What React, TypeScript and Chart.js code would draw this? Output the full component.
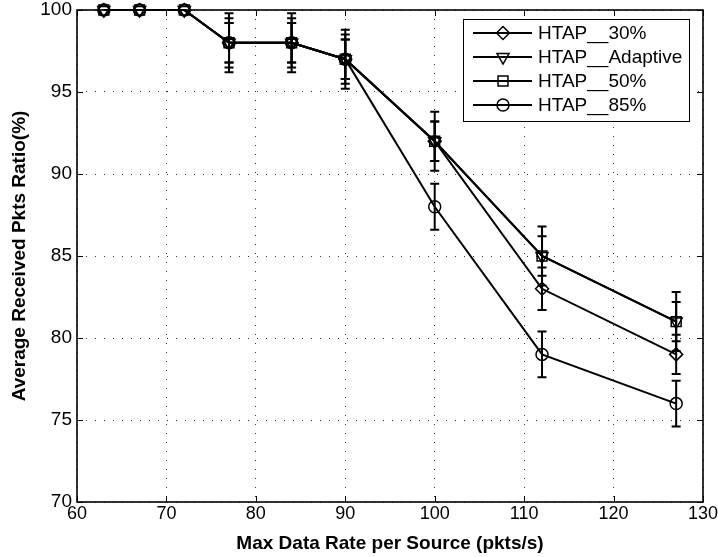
import React, { useEffect, useRef } from "react";
import { Chart, registerables } from "chart.js";

Chart.register(...registerables);

const xValues = [63, 67, 72, 77, 84, 90, 100, 112, 127];
const seriesNames = ["HTAP__30%", "HTAP__Adaptive", "HTAP__50%", "HTAP__85%"];
const ht30 = [100, 100, 100, 98, 98, 97, 92, 83, 79];
const htAdaptive = [100, 100, 100, 98, 98, 97, 92, 85, 81];
const ht50 = [100, 100, 100, 98, 98, 97, 92, 85, 81];
const ht85 = [100, 100, 100, 98, 98, 97, 88, 79, 76];
const err30 = [0, 0, 0, 1.2, 1.2, 1.2, 1.2, 1.3, 1.2];
const errAdaptive = [0, 0, 0, 1.8, 1.8, 1.8, 1.8, 1.8, 1.8];
const err50 = [0, 0, 0, 1.2, 1.2, 1.2, 1.2, 1.2, 1.2];
const err85 = [0, 0, 0, 1.5, 1.5, 1.5, 1.4, 1.4, 1.4];
const xTicks = [60, 70, 80, 90, 100, 110, 120, 130];
const yTicks = [70, 75, 80, 85, 90, 95, 100];

const FONT = "'Liberation Sans', Arial, Helvetica, sans-serif";

const markers = [
  { style: "rectRot", radius: 6.5, rotation: 0 },
  { style: "triangle", radius: 7, rotation: 180 },
  { style: "rect", radius: 7, rotation: 0 },
  { style: "circle", radius: 6, rotation: 0 },
];

const allValues = [ht30, htAdaptive, ht50, ht85];
const allErrors = [err30, errAdaptive, err50, err85];

function drawMarker(ctx: CanvasRenderingContext2D, style: string, r: number, x: number, y: number) {
  ctx.beginPath();
  if (style === "rectRot") {
    ctx.moveTo(x, y - r);
    ctx.lineTo(x + r, y);
    ctx.lineTo(x, y + r);
    ctx.lineTo(x - r, y);
    ctx.closePath();
  } else if (style === "triangle") {
    const h = r * Math.sin(Math.PI / 3);
    ctx.moveTo(x, y + r);
    ctx.lineTo(x + h, y - r / 2);
    ctx.lineTo(x - h, y - r / 2);
    ctx.closePath();
  } else if (style === "rect") {
    const s = r * Math.SQRT1_2;
    ctx.rect(x - s, y - s, 2 * s, 2 * s);
  } else {
    ctx.arc(x, y, r, 0, Math.PI * 2);
  }
  ctx.stroke();
}

const errorBarPlugin = {
  id: "errorBars",
  afterDatasetsDraw(chart: any) {
    const ctx = chart.ctx;
    const xs = chart.scales.x;
    const ys = chart.scales.y;
    ctx.save();
    ctx.strokeStyle = "#000";
    ctx.lineWidth = 2;
    chart.data.datasets.forEach((ds: any) => {
      const errs = ds.errors as number[];
      ds.data.forEach((p: any, i: number) => {
        const e = errs[i];
        if (!e) return;
        const px = xs.getPixelForValue(p.x);
        const y1 = ys.getPixelForValue(p.y + e);
        const y2 = ys.getPixelForValue(p.y - e);
        ctx.beginPath();
        ctx.moveTo(px, y1);
        ctx.lineTo(px, y2);
        ctx.moveTo(px - 4.5, y1);
        ctx.lineTo(px + 4.5, y1);
        ctx.moveTo(px - 4.5, y2);
        ctx.lineTo(px + 4.5, y2);
        ctx.stroke();
      });
    });
    ctx.restore();
  },
};

const framePlugin = {
  id: "frame",
  beforeDatasetsDraw(chart: any) {
    const { ctx, chartArea } = chart;
    const { left, right, top, bottom } = chartArea;
    const xs = chart.scales.x;
    const ys = chart.scales.y;
    ctx.save();
    ctx.strokeStyle = "#000";
    ctx.lineWidth = 1;
    const tl = 6;
    ctx.beginPath();
    xTicks.forEach((t) => {
      const px = Math.round(xs.getPixelForValue(t)) + 0.5;
      ctx.moveTo(px, bottom);
      ctx.lineTo(px, bottom - tl);
      ctx.moveTo(px, top);
      ctx.lineTo(px, top + tl);
    });
    yTicks.forEach((t) => {
      const py = Math.round(ys.getPixelForValue(t)) + 0.5;
      ctx.moveTo(left, py);
      ctx.lineTo(left + tl, py);
      ctx.moveTo(right, py);
      ctx.lineTo(right - tl, py);
    });
    ctx.stroke();
    ctx.lineWidth = 1.6;
    ctx.strokeRect(left, top, right - left, bottom - top);
    ctx.restore();
  },
};

const legendPlugin = {
  id: "customLegend",
  afterDraw(chart: any) {
    const ctx = chart.ctx;
    const boxL = 463;
    const boxT = 19;
    const boxW = 226;
    const rowH = 24;
    const boxH = rowH * 4 + 6;
    ctx.save();
    ctx.fillStyle = "#fff";
    ctx.fillRect(boxL, boxT, boxW, boxH);
    ctx.strokeStyle = "#000";
    ctx.lineWidth = 1;
    ctx.strokeRect(boxL + 0.5, boxT + 0.5, boxW, boxH);
    seriesNames.forEach((name, i) => {
      const cy = boxT + 14 + i * rowH;
      ctx.strokeStyle = "#000";
      ctx.lineWidth = 2;
      ctx.beginPath();
      ctx.moveTo(boxL + 10, cy);
      ctx.lineTo(boxL + 69, cy);
      ctx.stroke();
      const m = markers[i];
      ctx.lineWidth = 1.5;
      drawMarker(ctx, m.style, m.radius, boxL + 40, cy);
      ctx.fillStyle = "#000";
      ctx.font = `19px ${FONT}`;
      ctx.textBaseline = "middle";
      ctx.textAlign = "left";
      ctx.fillText(name, boxL + 75, cy + 1);
    });
    ctx.restore();
  },
};

const noPad = (s: any) => {
  s.paddingLeft = 0;
  s.paddingRight = 0;
  s.paddingTop = 0;
  s.paddingBottom = 0;
};

export default function App() {
  const ref = useRef<HTMLCanvasElement | null>(null);
  useEffect(() => {
    if (!ref.current) return;
    const datasets = seriesNames.map((name, i) => ({
      label: name,
      data: xValues.map((x, j) => ({ x, y: allValues[i][j] })),
      errors: allErrors[i],
      showLine: true,
      borderColor: "#000",
      borderWidth: 2,
      pointStyle: markers[i].style,
      pointRadius: markers[i].radius,
      pointRotation: markers[i].rotation,
      pointBorderWidth: 1.5,
      pointBackgroundColor: "rgba(0,0,0,0)",
      pointBorderColor: "#000",
      clip: false,
      tension: 0,
    }));
    const chart = new Chart(ref.current, {
      type: "scatter",
      data: { datasets: datasets as any },
      options: {
        animation: false,
        responsive: false,
        events: [],
        layout: { padding: { left: 0, right: 15, top: 10, bottom: 0 } },
        plugins: { legend: { display: false }, tooltip: { enabled: false } },
        scales: {
          x: {
            type: "linear",
            min: 60,
            max: 130,
            afterFit: (s: any) => {
              s.height = 55;
              noPad(s);
            },
            afterBuildTicks: (s: any) => {
              s.ticks = xTicks.map((v) => ({ value: v }));
            },
            border: { display: false, dash: [1, 8] },
            grid: {
              color: "#333",
              lineWidth: 1,
              drawTicks: false,
            },
            ticks: {
              color: "#000",
              padding: 1,
              font: { family: FONT, size: 18 },
              maxRotation: 0,
              autoSkip: false,
            },
            title: {
              display: true,
              text: "Max Data Rate per Source (pkts/s)",
              color: "#000",
              font: { family: FONT, size: 19, weight: "bold" },
              padding: { top: 0, bottom: 2 },
            },
          },
          y: {
            type: "linear",
            min: 70,
            max: 100,
            afterFit: (s: any) => {
              s.width = 77;
              noPad(s);
            },
            afterBuildTicks: (s: any) => {
              s.ticks = yTicks.map((v) => ({ value: v }));
            },
            border: { display: false, dash: [1, 8] },
            grid: {
              color: "#333",
              lineWidth: 1,
              drawTicks: false,
            },
            ticks: {
              color: "#000",
              padding: 5,
              font: { family: FONT, size: 19 },
              autoSkip: false,
            },
            title: {
              display: true,
              text: "Average Received Pkts Ratio(%)",
              color: "#000",
              font: { family: FONT, size: 19, weight: "bold" },
              padding: { top: 8, bottom: 0 },
            },
          },
        },
      },
      plugins: [framePlugin, errorBarPlugin, legendPlugin],
    } as any);
    return () => chart.destroy();
  }, []);
  return (
    <div style={{ position: "absolute", left: 0, top: 0, width: 718, height: 557, background: "#fff" }}>
      <canvas ref={ref} width={718} height={557} style={{ display: "block" }} />
    </div>
  );
}
